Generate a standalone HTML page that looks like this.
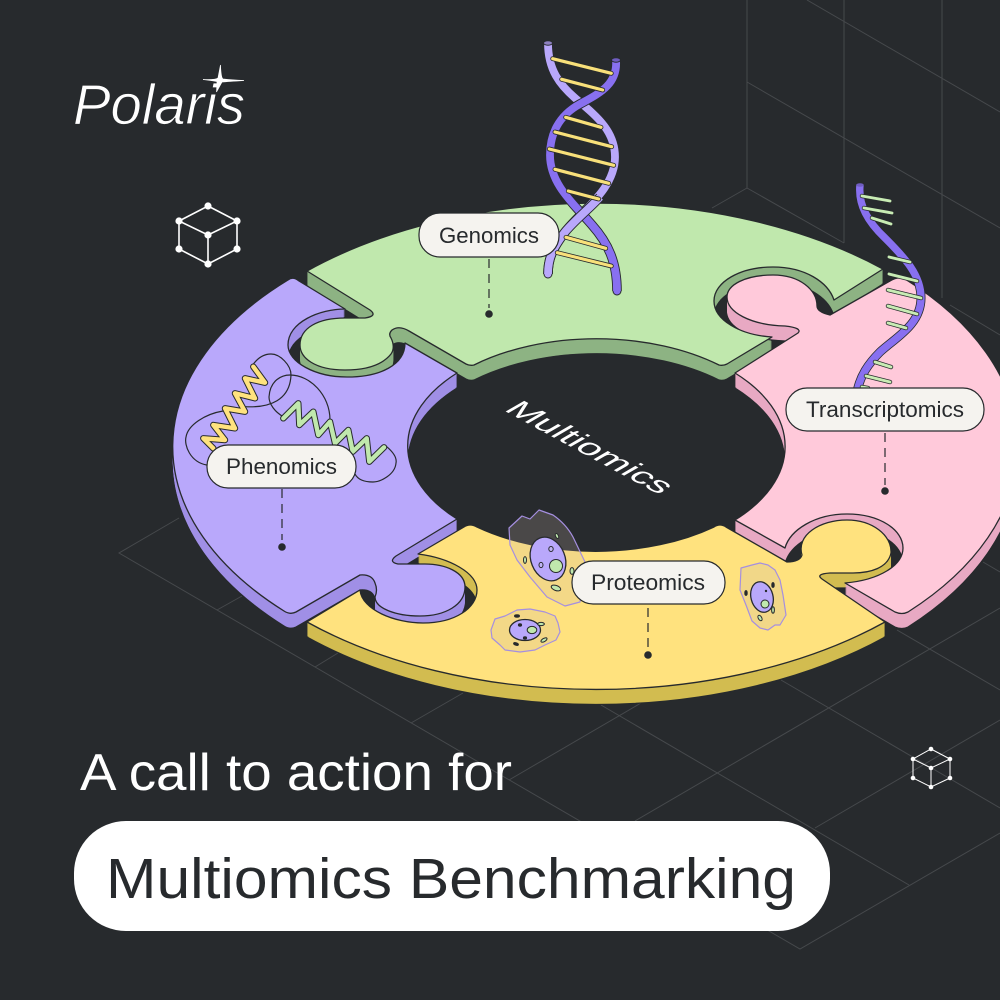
<!DOCTYPE html>
<html><head><meta charset="utf-8"><style>html,body{margin:0;padding:0;background:#272a2d}svg{display:block}text{font-family:"Liberation Sans",sans-serif}</style></head><body>
<svg width="1000" height="1000" viewBox="0 0 1000 1000" xmlns="http://www.w3.org/2000/svg">
<rect width="1000" height="1000" fill="#272a2d"/>
<defs>
<path id="g" d="M307,271 A423,250 0 0 1 883,269 L834,300 C828,282 805,267 773,267 C740,267 714,282 714,301 C714,320 740,335 772,337 L727,364 Q723,366 719,365 A187.5,108 0 0 0 474,365 Q470,366 466,364 L409,331 Q399,325 392,330 Q388,334 391,338 C394,344 394,350 391,354 C383,364 368,370 345,370 C315,370 300,358 300,345 C300,328 318,318 345,318 L365,318 Q378,316 370,310 Z"/>
<path id="p" d="M345,309 C320,309 288,322 288,345 C288,362 315,377 347,377 C380,377 405,365 405,343 L457,373 A187.5,108 0 0 0 457,519 L396,556 Q388,562 398,564 L425,564 C445,564 465,572 465,587 C465,605 445,616 420,616 C395,616 375,608 375,597 Q378,590 375,583 Q372,574 360,575 L296,612 Q290,615 284,611 A423,243 0 0 1 288,280 Q293,276 299,281 Z"/>
<path id="y" d="M307,622 L360,590 C362,610 395,623 423,623 C455,623 477,608 477,590 C477,573 450,558 418,554 L464,527 Q470,523 477,527 A187.5,108 0 0 0 714,527 Q720,523 726,527 L787,562 Q800,562 802,555 C796,535 820,520 847,520 C872,520 892,535 891,553 C888,568 870,573 853,573 L830,573 Q815,574 822,579 L885,622 A423,250 0 0 1 307,622 Z"/>
<path id="k" d="M735,520 L785,548 C790,530 815,514 847,514 C880,514 903,530 903,548 C903,565 880,580 845,583 L895,612 Q902,615 908,612 A410,243 0 0 0 905,279 Q898,276 890,281 L830,315 Q817,312 817,306 C817,290 800,275 773,275 C745,275 727,285 727,297 C727,312 750,325 785,326 Q803,328 798,333 L735,373 A187.5,108 0 0 1 735,520 Z"/>
<g id="stackg"><use href="#g" y="1"/><use href="#g" y="2"/><use href="#g" y="3"/><use href="#g" y="4"/><use href="#g" y="5"/><use href="#g" y="6"/><use href="#g" y="7"/><use href="#g" y="8"/><use href="#g" y="9"/><use href="#g" y="10"/><use href="#g" y="11"/><use href="#g" y="12"/><use href="#g" y="13"/><use href="#g" y="14"/></g>
<g id="stackp"><use href="#p" y="1"/><use href="#p" y="2"/><use href="#p" y="3"/><use href="#p" y="4"/><use href="#p" y="5"/><use href="#p" y="6"/><use href="#p" y="7"/><use href="#p" y="8"/><use href="#p" y="9"/><use href="#p" y="10"/><use href="#p" y="11"/><use href="#p" y="12"/><use href="#p" y="13"/><use href="#p" y="14"/></g>
<g id="stacky"><use href="#y" y="1"/><use href="#y" y="2"/><use href="#y" y="3"/><use href="#y" y="4"/><use href="#y" y="5"/><use href="#y" y="6"/><use href="#y" y="7"/><use href="#y" y="8"/><use href="#y" y="9"/><use href="#y" y="10"/><use href="#y" y="11"/><use href="#y" y="12"/><use href="#y" y="13"/><use href="#y" y="14"/></g>
<g id="stackk"><use href="#k" y="1"/><use href="#k" y="2"/><use href="#k" y="3"/><use href="#k" y="4"/><use href="#k" y="5"/><use href="#k" y="6"/><use href="#k" y="7"/><use href="#k" y="8"/><use href="#k" y="9"/><use href="#k" y="10"/><use href="#k" y="11"/><use href="#k" y="12"/><use href="#k" y="13"/><use href="#k" y="14"/></g>
</defs>

<!-- grid -->
<g stroke="#46494c" stroke-width="1" fill="none">
<path d="M747,0V188M844,0V243M942,0V298"/>
<path d="M747,82L1000,228M807,0L1000,112M747,188L844,243M712,208L747,188M950,305L1000,335"/>
<path d="M179,518L119,553L800,949L1000,833M217,610L242,596M315,667L338,653M411,723L463,693"/>
<path d="M509,780L641,703M601,705L909,885M635,821L1000,608M781,680L1000,808M815,828L1000,720M897,630L1000,690M983,562L1000,572"/>
</g>

<!-- walls -->
<g stroke="#272a2d" stroke-width="1.2">
<use href="#g" y="15" fill="#8db383"/><use href="#stackg" fill="#8db383" stroke="none"/>
<use href="#p" y="15" fill="#a08fe6"/><use href="#stackp" fill="#a08fe6" stroke="none"/>
<use href="#y" y="15" fill="#d2bc50"/><use href="#stacky" fill="#d2bc50" stroke="none"/>
<use href="#k" y="15" fill="#e8a9c3"/><use href="#stackk" fill="#e8a9c3" stroke="none"/>
</g>
<!-- surfaces -->
<g stroke="#272a2d" stroke-width="1.3" stroke-linejoin="round">
<use href="#g" fill="#c0e8ad"/>
<use href="#p" fill="#b9a8fb"/>
<use href="#y" fill="#ffe27e"/>
<use href="#k" fill="#ffc9da"/>
</g>

<!-- DNA -->
<circle cx="548" cy="274" r="4" fill="#b9a8fb" stroke="#272a2d"/>
<circle cx="617" cy="291" r="4" fill="#8870f0" stroke="#272a2d"/>
<g fill="none" stroke-linecap="butt">
<path d="M548,43 C548,70 560,85 575,98 C595,115 615,130 615,157 C615,190 580,212 565,232 C553,248 548,258 548,274" stroke="#272a2d" stroke-width="9.6"/>
<path d="M548,43 C548,70 560,85 575,98 C595,115 615,130 615,157 C615,190 580,212 565,232 C553,248 548,258 548,274" stroke="#b9a8fb" stroke-width="7.8"/>
<path d="M616,60 C618,85 598,94 580,104 C558,116 550,135 550,155 C550,185 575,205 592,225 C608,243 617,262 617,291" stroke="#272a2d" stroke-width="9.6"/>
<path d="M616,60 C618,85 598,94 580,104 C558,116 550,135 550,155 C550,185 575,205 592,225 C608,243 617,262 617,291" stroke="#8870f0" stroke-width="7.8"/>
<path d="M600,197 C590,208 575,220 565,232 C553,248 548,258 548,274" stroke="#272a2d" stroke-width="9.6"/>
<path d="M600,197 C590,208 575,220 565,232 C553,248 548,258 548,274" stroke="#b9a8fb" stroke-width="7.8"/>
</g>
<ellipse cx="548" cy="43" rx="4.5" ry="2.2" fill="#8d80c0" stroke="#272a2d"/>
<ellipse cx="616" cy="60" rx="4.5" ry="2.2" fill="#6f5dc0" stroke="#272a2d"/>
<g stroke-linecap="round">
<path d="M552.7,58.7L611.3,73.3M561.7,79.3L602.7,90M565.7,117.3L601,127.3M555,132L611.7,146.7M549.3,149L613.7,165.3M555,169.3L608.7,183.3M568.3,191L598.7,199M566,237.3L605.7,248.3M557.3,252.7L611.3,266" stroke="#272a2d" stroke-width="4.8"/>
<path d="M552.7,58.7L611.3,73.3M561.7,79.3L602.7,90M565.7,117.3L601,127.3M555,132L611.7,146.7M549.3,149L613.7,165.3M555,169.3L608.7,183.3M568.3,191L598.7,199M566,237.3L605.7,248.3M557.3,252.7L611.3,266" stroke="#f8e07a" stroke-width="3.2"/>
</g>

<!-- RNA -->
<path d="M860,185 C858,205 868,222 885,238 C905,258 921,275 921,298 C921,325 895,338 880,352 C868,364 860,376 857,392" fill="none" stroke="#272a2d" stroke-width="9"/>
<path d="M860,185 C858,205 868,222 885,238 C905,258 921,275 921,298 C921,325 895,338 880,352 C868,364 860,376 857,392" fill="none" stroke="#8870f0" stroke-width="7.4"/>
<ellipse cx="860" cy="185" rx="3.8" ry="1.8" fill="#6f5dc0"/>
<g stroke-linecap="round">
<path d="M862,196L890,201M864,208L892,213M872,218L891,224M889,257L910,262M889,274L917,281M888,290L921,298M888,306L917,314M888,323L906,328M875,362L891,367M866,376L890,382M862,387L868,388" stroke="#272a2d" stroke-width="4.4"/>
<path d="M862,196L890,201M864,208L892,213M872,218L891,224M889,257L910,262M889,274L917,281M888,290L921,298M888,306L917,314M888,323L906,328M875,362L891,367M866,376L890,382M862,387L868,388" stroke="#c8ecb4" stroke-width="2.9"/>
</g>

<!-- Phenomics squiggles -->
<g fill="none" stroke="#272a2d" stroke-width="1.2">
<path d="M206.7,465 C190,462 184,445 186,437 C188,425 205,414 223,411"/>
<path d="M245,406.7 C270,408 290,400 291,375 C291,365 280,354 271,354 C262,354 256,360 252,366"/>
<path d="M283.3,416.7 C275,412 269,404 269,397 C270,380 282,375 290,375 C310,375 330,395 330,420"/>
<path d="M386.7,446.7 C393,452 397,458 396,463 C395,475 380,482 373,482 C365,482 358,480 355,474"/>
</g>
<g fill="none" stroke-linejoin="round" stroke-linecap="round">
<path d="M213.3,448.3L203.3,438.3L225,440L213.3,425L235,428.3L225,408.3L245,411.7L235,393.3L255,398.3L245,378.3L265,382.7L253.3,366.7" stroke="#272a2d" stroke-width="6.4"/>
<path d="M213.3,448.3L203.3,438.3L225,440L213.3,425L235,428.3L225,408.3L245,411.7L235,393.3L255,398.3L245,378.3L265,382.7L253.3,366.7" stroke="#ffe27e" stroke-width="4.4"/>
<path d="M283.3,418.3L298.3,403.3L299.3,425L313.3,411.7L318.3,435L330,421.7L335,443.3L348.3,430L352.7,451.7L366.7,438.3L369.3,461.7L384,447.3" stroke="#272a2d" stroke-width="6.4"/>
<path d="M283.3,418.3L298.3,403.3L299.3,425L313.3,411.7L318.3,435L330,421.7L335,443.3L348.3,430L352.7,451.7L366.7,438.3L369.3,461.7L384,447.3" stroke="#c0e8ad" stroke-width="4.4"/>
</g>

<!-- Cells -->
<g stroke="#272a2d" stroke-width="1">
<path d="M509,528 L522,516 L530,519 L539,510 L553,515 Q566,524 573,537 L585,562 L580,602 L565,606 L547,597 L530,577 L517,560 L510,545 Z" fill="rgba(200,184,168,.22)" stroke="#a58fe0" stroke-width="1.2" stroke-linejoin="round"/>
<ellipse cx="548" cy="559" rx="17" ry="22.5" transform="rotate(-22 548 559)" fill="#b9a8fb" stroke-width="1.3"/>
<circle cx="556" cy="566" r="6.5" fill="#c0e8ad"/>
<ellipse cx="551" cy="549" rx="2.2" ry="2.5" fill="#c0b4f5"/>
<ellipse cx="541" cy="565" rx="2" ry="2.6" fill="#c0b4f5"/>
<ellipse cx="525" cy="560" rx="1.5" ry="3.4" fill="#c0e8ad"/>
<ellipse cx="557" cy="536" rx="1.4" ry="2.6" transform="rotate(-25 557 536)" fill="#c0e8ad"/>
<ellipse cx="556" cy="588" rx="5" ry="2.5" transform="rotate(20 556 588)" fill="#c0e8ad"/>
<ellipse cx="572" cy="571" rx="2" ry="3.4" fill="#c0e8ad"/>

<path d="M491,630 L495,619 L505,616 L517,610 L530,609 L545,612 L555,616 L558,623 L560,632 L556,640 L545,645 L535,650 L520,652 L505,650 L500,645 L492,638 Z" fill="rgba(200,184,168,.22)" stroke="#a58fe0" stroke-width="1.2" stroke-linejoin="round"/>
<ellipse cx="525" cy="630" rx="15.5" ry="10.5" fill="#b9a8fb" stroke-width="1.3"/>
<ellipse cx="532" cy="630" rx="4.8" ry="3.6" fill="#c0e8ad"/>
<ellipse cx="520" cy="625" rx="1.6" ry="1.2" fill="#272a2d"/>
<ellipse cx="525" cy="638" rx="1.6" ry="1.2" fill="#272a2d"/>
<ellipse cx="517" cy="616" rx="2.5" ry="1.2" fill="#272a2d"/>
<ellipse cx="541" cy="624" rx="3.4" ry="1.6" fill="#c0e8ad"/>
<ellipse cx="544" cy="640" rx="3.4" ry="1.6" transform="rotate(-30 544 640)" fill="#c0e8ad"/>
<ellipse cx="516" cy="644" rx="2.5" ry="1.2" transform="rotate(20 516 644)" fill="#272a2d"/>

<path d="M741,568 L752,565 L760,563 L768,565 L775,570 L780,580 L783,595 L786,615 L780,625 L775,625 L768,630 L760,628 L752,621 L746,605 L740,590 Z" fill="rgba(200,184,168,.25)" stroke="#a58fe0" stroke-width="1.2" stroke-linejoin="round"/>
<ellipse cx="762" cy="597" rx="11" ry="15.5" transform="rotate(-15 762 597)" fill="#b9a8fb" stroke-width="1.3"/>
<circle cx="765" cy="604" r="4" fill="#c0e8ad"/>
<ellipse cx="746" cy="593" rx="1.2" ry="2.4" fill="#272a2d"/>
<ellipse cx="773" cy="585" rx="1.2" ry="2.4" fill="#272a2d"/>
<ellipse cx="760" cy="618" rx="1.7" ry="3" transform="rotate(-30 760 618)" fill="#c0e8ad"/>
<ellipse cx="773" cy="610" rx="1.4" ry="3.2" fill="#c0e8ad"/>
<circle cx="766" cy="591" r="1.2" fill="#272a2d" stroke="none"/>
</g>

<!-- Dashed leaders and dots -->
<g stroke="#272a2d" stroke-width="1.2" stroke-dasharray="9 6" fill="none">
<path d="M489,259V308"/><path d="M282,489V540"/><path d="M885,433V485"/><path d="M648,608V648"/>
</g>
<g fill="#272a2d"><circle cx="489" cy="314" r="3.8"/><circle cx="282" cy="547" r="3.8"/><circle cx="885" cy="491" r="3.8"/><circle cx="648" cy="655" r="3.8"/></g>

<!-- Label pills -->
<g fill="#f5f3ef" stroke="#272a2d" stroke-width="1.2">
<rect x="419" y="213" width="140" height="44" rx="21"/>
<rect x="207" y="445" width="149" height="43" rx="21"/>
<rect x="786" y="388" width="198" height="43" rx="21"/>
<rect x="572" y="561" width="153" height="43" rx="21"/>
</g>
<g fill="#272a2d" font-size="22">
<text x="439" y="243" textLength="100" lengthAdjust="spacingAndGlyphs">Genomics</text>
<text x="226" y="474" textLength="111" lengthAdjust="spacingAndGlyphs">Phenomics</text>
<text x="806" y="417" textLength="158" lengthAdjust="spacingAndGlyphs">Transcriptomics</text>
<text x="591" y="590" textLength="114" lengthAdjust="spacingAndGlyphs">Proteomics</text>
</g>

<!-- Center title -->
<text transform="matrix(.879,.477,-.866,.5,503,410)" font-size="31" fill="#fff" textLength="178" lengthAdjust="spacingAndGlyphs">Multiomics</text>

<!-- Logo -->
<text x="73" y="124" font-size="57" font-style="italic" fill="#fff" stroke="#272a2d" stroke-width=".8" textLength="172" lengthAdjust="spacingAndGlyphs">Polaris</text>
<path d="M203,79.5 Q216,80 218,78 L220.5,65 Q221,78 223,79 Q232,80 244,80.5 Q228,81.5 222,82 L216.5,92 Q217,84 217,81.5 Q212,80.5 203,79.5Z" fill="#fff" stroke="#fff" stroke-width=".7"/>

<!-- Cubes -->
<g stroke="#fff" stroke-width="1.6" fill="none">
<path d="M208,206L237,221L208,235L179,221ZM179,221V249L208,264L237,249V221M208,235V264"/>
</g>
<g fill="#fff"><circle cx="208" cy="206" r="3.6"/><circle cx="237" cy="221" r="3.6"/><circle cx="179" cy="221" r="3.6"/><circle cx="208" cy="235" r="3.6"/><circle cx="179" cy="249" r="3.6"/><circle cx="237" cy="249" r="3.6"/><circle cx="208" cy="264" r="3.6"/></g>
<g stroke="#fff" stroke-width="1" fill="none">
<path d="M931,749L950,759L931,768L913,759ZM913,759V778L931,787L950,778V759M931,768V787"/>
</g>
<g fill="#fff"><circle cx="931" cy="749" r="2.3"/><circle cx="950" cy="759" r="2.3"/><circle cx="913" cy="759" r="2.3"/><circle cx="931" cy="768" r="2.3"/><circle cx="913" cy="778" r="2.3"/><circle cx="950" cy="778" r="2.3"/><circle cx="931" cy="787" r="2.3"/></g>

<!-- Bottom text -->
<text x="80" y="790" font-size="52" fill="#fff" textLength="432" lengthAdjust="spacingAndGlyphs">A call to action for</text>
<rect x="74" y="821" width="756" height="110" rx="52" fill="#fff"/>
<text x="106" y="898" font-size="57" fill="#272a2d" textLength="690" lengthAdjust="spacingAndGlyphs">Multiomics Benchmarking</text>
</svg>
</body></html>
